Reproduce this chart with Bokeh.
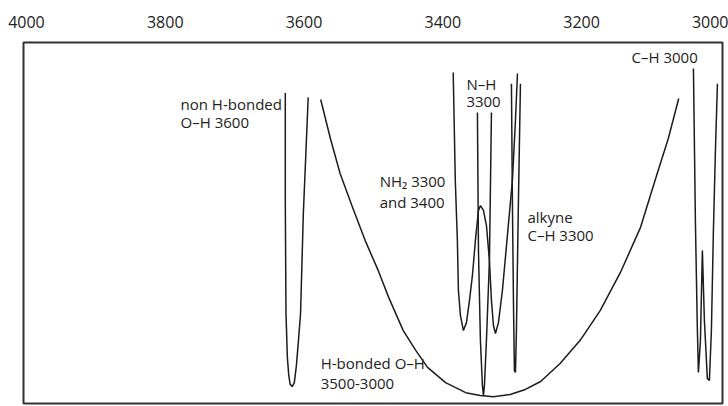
from bokeh.plotting import figure
from bokeh.models import Range1d, FixedTicker, ColumnDataSource
from bokeh.core.properties import value
from bokeh.embed import file_html
from bokeh.resources import INLINE

# Tick labels (wavenumber, cm-1)
ticks = [4000, 3800, 3600, 3400, 3200, 3000]

# non H-bonded O-H (sharp, ~3600)
oh_free_wn = [3627, 3627, 3626, 3624, 3622, 3620, 3617, 3614, 3611, 3608, 3605, 3601, 3597, 3594]
oh_free_T = [86, 56, 25, 12.7, 7.8, 5.3, 4.7, 5.8, 10.5, 17.5, 25, 52.6, 70.9, 84.8]

# H-bonded O-H (broad, 3500-3000)
oh_hb_wn = [3576, 3562, 3548, 3530, 3512, 3493, 3478, 3457, 3439, 3422, 3396, 3367, 3346,
            3327, 3303, 3281, 3259, 3231, 3202, 3173, 3144, 3115, 3091, 3075, 3060]
oh_hb_T = [84.2, 73.4, 63.7, 54.3, 45.2, 36.8, 29.4, 20.2, 14.7, 10.0, 5.8, 3.0, 2.2,
           1.9, 2.5, 3.9, 6.1, 11.1, 17.5, 25.8, 36.3, 48.8, 63.7, 73.4, 84.5]

# NH2 (doublet, 3300 and 3400)
nh2_wn = [3385, 3382, 3379, 3377.5, 3374.6, 3370.3, 3365.9, 3361.6, 3357.3, 3353, 3348.6, 3345.8,
          3341.4, 3337.1, 3332.8, 3329.9, 3327, 3324.1, 3319.8, 3314.1, 3306.9, 3299.7, 3295.3, 3292.4]
nh2_T = [91.7, 61.8, 45.2, 31.3, 24.4, 20.2, 22.4, 28.5, 35.5, 45.2, 53.5, 54.8,
         53.5, 49.3, 39.6, 28.5, 21.6, 19.4, 22.4, 31.3, 46.5, 61.8, 78.4, 91.4]

# N-H (single, 3300)
nh_wn = [3350.1, 3348.6, 3345.8, 3342.9, 3341.4, 3340.0, 3337.1, 3332.8, 3329.9]
nh_T = [80.6, 42.4, 17.5, 5.0, 2.2, 5.0, 17.5, 39.6, 80.6]

# alkyne C-H (3300)
alkyne_wn = [3301.1, 3299.7, 3298.2, 3296.8, 3295.3, 3293.9, 3291.0, 3288.1]
alkyne_T = [88.6, 56.2, 28.5, 9.1, 8.6, 20.2, 56.2, 88.6]

# C-H (3000)
ch_wn = [3038.8, 3035.9, 3033.1, 3031.6, 3028.7, 3025.9, 3023.0, 3018.7, 3015.8, 3012.9, 3010.0, 3007.1, 3004.2]
ch_T = [92.8, 49.9, 20.2, 8.6, 17.5, 42.4, 23.0, 6.9, 6.4, 20.2, 47.9, 70.1, 88.6]

# Annotations
label_text = ["non H-bonded", "O\u2013H 3600", "N\u2013H", "3300", "NH\u2082 3300", "and 3400",
              "alkyne", "C\u2013H 3300", "H-bonded O\u2013H", "3500-3000", "C\u2013H 3000"]
label_wn = [3778, 3778, 3366, 3366, 3491, 3491, 3278, 3278, 3576, 3576, 3128]
label_T = [83.0, 78.0, 88.6, 83.4, 61.6, 55.8, 51.8, 46.6, 11.1, 5.5, 96.0]

p = figure(width=728, height=406, output_backend="svg", toolbar_location=None,
           x_range=Range1d(4004.3, 2996.9), y_range=Range1d(0, 100),
           x_axis_location="above", y_axis_location=None,
           min_border_left=23, min_border_right=6, min_border_top=42, min_border_bottom=3)

p.xgrid.visible = False
p.ygrid.visible = False
p.outline_line_color = "#333333"
p.outline_line_width = 2
p.background_fill_color = "white"
p.border_fill_color = "white"

ax = p.xaxis[0]
ax.ticker = FixedTicker(ticks=ticks)
ax.major_tick_line_color = None
ax.minor_tick_line_color = None
ax.axis_line_color = None
ax.major_label_text_font = "Open Sans"
ax.major_label_text_font_size = "16px"
ax.major_label_text_color = "#222222"
ax.major_label_standoff = 9

line_color = "#1c1c1c"
for xs, ys in [(oh_free_wn, oh_free_T), (oh_hb_wn, oh_hb_T), (nh2_wn, nh2_T),
               (nh_wn, nh_T), (alkyne_wn, alkyne_T), (ch_wn, ch_T)]:
    p.line(xs, ys, line_color=line_color, line_width=1.5)

src = ColumnDataSource(dict(x=label_wn, y=label_T, t=label_text))
p.text(x="x", y="y", text="t", source=src, text_font=value("Open Sans"),
       text_font_size="15px", text_color="#222222", text_align="left", text_baseline="middle")

open("out.html", "w").write(file_html(p, INLINE))
